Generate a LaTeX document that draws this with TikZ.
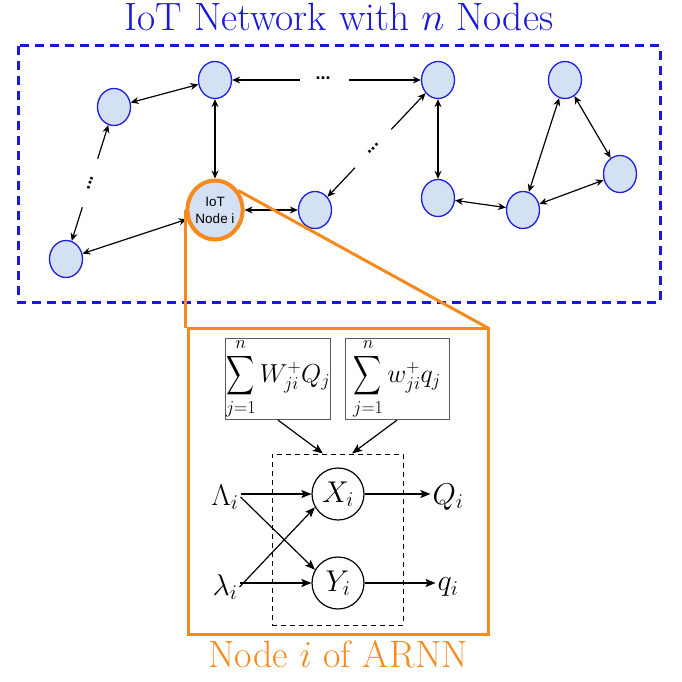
\RequirePackage{fix-cm}
\documentclass[tikz,border=0pt]{standalone}
\usepackage{exscale}
\usepackage{graphicx}
\usepackage{fontspec}
\newfontfamily\lsans{Liberation Sans}
\usetikzlibrary{arrows.meta,shapes.geometric,calc}
\definecolor{nodeblue}{RGB}{30,30,220}
\definecolor{nodefill}{RGB}{212,224,244}
\definecolor{boxblue}{RGB}{25,25,215}
\definecolor{arnnorange}{RGB}{246,138,30}
\definecolor{sumgray}{RGB}{90,90,90}
\newcommand{\narrowsum}{\mathop{\scalebox{0.78}[1.1]{$\displaystyle\sum$}}\limits}
\begin{document}
\begin{tikzpicture}[x=1pt,y=-1pt,
  net/.style={ellipse,draw=nodeblue,fill=nodefill,line width=1.3pt,minimum width=33pt,minimum height=37pt,inner sep=0pt},
  link/.style={line width=1.2pt,{Stealth[length=8pt,width=7pt]}-{Stealth[length=8pt,width=7pt]}},
  linkto/.style={line width=1.2pt,-{Stealth[length=8pt,width=7pt]}},
  dotsnode/.style={font=\lsans\bfseries\fontsize{18}{18}\selectfont,inner sep=0pt},
  sumbox/.style={draw=sumgray,line width=1pt,inner sep=0pt,minimum width=104pt,minimum height=80pt,font=\fontsize{26}{30}\selectfont},
  circ/.style={circle,draw,line width=1.2pt,minimum size=52pt,inner sep=0pt,font=\fontsize{30}{34}\selectfont},
  lbl/.style={inner sep=2pt,font=\fontsize{30}{34}\selectfont},
  arr/.style={line width=1.2pt,-{Stealth[length=10pt,width=8pt,inset=2pt]}},
  orangeline/.style={draw=arnnorange,line width=3pt}
]
\useasboundingbox (0,0) rectangle (681,682);
\fill[white] (0,0) rectangle (681,682);

% title and blue frame
\node[font=\fontsize{39.5}{44}\selectfont,text=boxblue,anchor=base] (title) at (339,31) {IoT Network with $n$ Nodes};
\draw[boxblue,line width=3pt,dash pattern=on 9pt off 6pt] (18,46) rectangle (660,302);

% network nodes
\node[net] (A) at (114,107) {};
\node[net] (B) at (215,80) {};
\node[net] (C) at (438,80) {};
\node[net] (D) at (565,80) {};
\node[net] (E) at (620,174) {};
\node[net] (G) at (438,198) {};
\node[net] (F) at (523,210) {};
\node[net] (H) at (315,210) {};
\node[net] (K) at (66,259) {};
\node[ellipse,draw=arnnorange,fill=nodefill,line width=4pt,minimum width=51pt,minimum height=59pt,inner sep=0pt,align=center,font=\lsans\fontsize{13.5}{17}\selectfont] (I) at (215,210) {IoT\\Node i};

% network links
\draw[link] (A) -- (B);
\draw[linkto] ($(B)!0.38!(C)$) -- (B);
\draw[linkto] ($(B)!0.6!(C)$) -- (C);
\node[dotsnode] (dBC) at ($(B)!0.485!(C)+(0,-2)$) {...};
\draw[link] (B) -- (I);
\draw[linkto] ($(A)!0.34!(K)$) -- (A);
\draw[linkto] ($(A)!0.66!(K)$) -- (K);
\path (A) -- node[dotsnode,sloped] (dAK) {...} (K);
\draw[link] (K) -- (I);
\draw[link] (I) -- (H);
\draw[linkto] ($(C)!0.38!(H)$) -- (C);
\draw[linkto] ($(C)!0.675!(H)$) -- (H);
\path ($(C)!0.38!(H)$) -- node[dotsnode,sloped] (dCH) {...} ($(C)!0.675!(H)$);
\draw[link] (C) -- (G);
\draw[link] (G) -- (F);
\draw[link] (F) -- (D);
\draw[link] (F) -- (E);
\draw[link] (D) -- (E);

% zoom box
\coordinate (boxNE) at (488,328);
\coordinate (boxSW) at (188,634);
\draw[orangeline] (I.west) -- (I.west |- boxNE);
\draw[orangeline] (I.40) -- (boxNE);
\draw[orangeline] (boxSW) rectangle (boxNE);

% ARNN node
\node[sumbox] (S1) at (278,379) {$\displaystyle\narrowsum_{j=1}^{n} W^{+}_{ji}Q_j$};
\node[sumbox] (S2) at (397,379) {$\displaystyle\narrowsum_{j=1}^{n} w^{+}_{ji}q_j$};
\node[draw,line width=1pt,dash pattern=on 5pt off 4pt,minimum width=131pt,minimum height=171pt,inner sep=0pt] (R) at (337.5,539.5) {};
\node[circ] (X) at (338,494) {$X_i$};
\node[circ] (Y) at (338,583) {$Y_i$};
\node[lbl] (L) at (225,497) {$\Lambda_i$};
\node[lbl] (l) at (225,587) {$\lambda_i$};
\node[lbl] (Q) at (448,497) {$Q_i$};
\node[lbl] (q) at (448,587) {$q_i$};

\draw[arr] (S1.south) -- ($(R.north)+(-14.5,0)$);
\draw[arr] (S2.south) -- ($(R.north)+(14.5,0)$);
\draw[arr] (L.east |- X) -- (X);
\draw[arr] (L.east) -- (Y.150);
\draw[arr] (l.east) -- (X.210);
\draw[arr] (l.east |- Y) -- (Y);
\draw[arr] (X) -- (Q.west |- X);
\draw[arr] (Y) -- (q.west |- Y);

\node[font=\fontsize{38}{42}\selectfont,text=arnnorange,anchor=base] (cap) at (338,667) {Node $i$ of ARNN};
\end{tikzpicture}
\end{document}
